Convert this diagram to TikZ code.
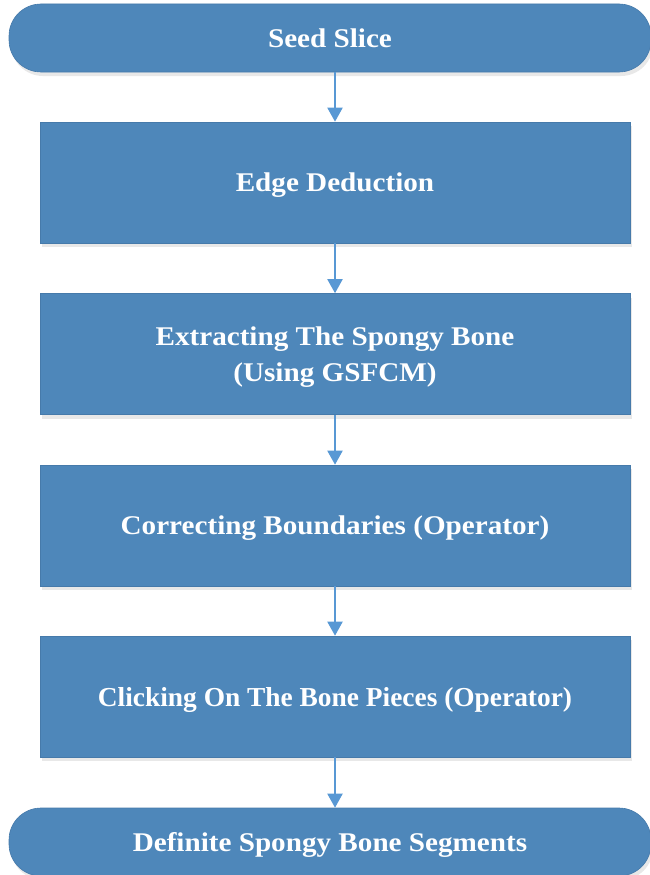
\documentclass[tikz,border=0pt]{standalone}
\usepackage{fontspec}
\setmainfont{Liberation Serif}[FakeStretch=1.08]
\newfontfamily\plainserif{Liberation Serif}
\usetikzlibrary{arrows.meta,shadows,calc}
\definecolor{boxblue}{RGB}{78,135,186}
\definecolor{boxedge}{RGB}{70,122,170}
\definecolor{arrowblue}{RGB}{88,152,212}
\tikzset{
  basebox/.style={draw=boxedge, line width=0.6pt, fill=boxblue, text=white,
    font=\fontsize{27}{36}\selectfont\bfseries, align=center, inner sep=0pt,
    text depth=0pt,
    drop shadow={opacity=0.18, shadow xshift=2pt, shadow yshift=-4pt}},
  stepbox/.style={basebox, rectangle, minimum width=590pt, minimum height=121pt},
  termbox/.style={basebox, rectangle, rounded corners=32pt, minimum width=642pt, minimum height=68pt},
  flow/.style={draw=arrowblue, line width=2pt, -{Triangle[width=15pt,length=14pt]}}
}
\begin{document}
\begin{tikzpicture}[x=1pt,y=-1pt]
\useasboundingbox (0,0) rectangle (649,875);
\node[termbox] (seed) at (330,38) {Seed Slice};
\node[stepbox] (edge) at (335,182.5) {Edge Deduction};
\node[stepbox] (extract) at (335,354) {Extracting The Spongy Bone\\(Using GSFCM)};
\node[stepbox] (correct) at (335,525.5) {Correcting Boundaries (Operator)};
\node[stepbox, font=\plainserif\fontsize{27.4}{36}\selectfont\bfseries] (click) at (335,696.5) {Clicking On The Bone Pieces (Operator)};
\node[termbox] (final) at (330,842) {Definite Spongy Bone Segments};
\draw[flow] (seed.south -| edge.north) -- (edge.north);
\draw[flow] (edge.south) -- (extract.north);
\draw[flow] (extract.south) -- (correct.north);
\draw[flow] (correct.south) -- (click.north);
\draw[flow] (click.south) -- (final.north -| click.south);
\end{tikzpicture}
\end{document}
